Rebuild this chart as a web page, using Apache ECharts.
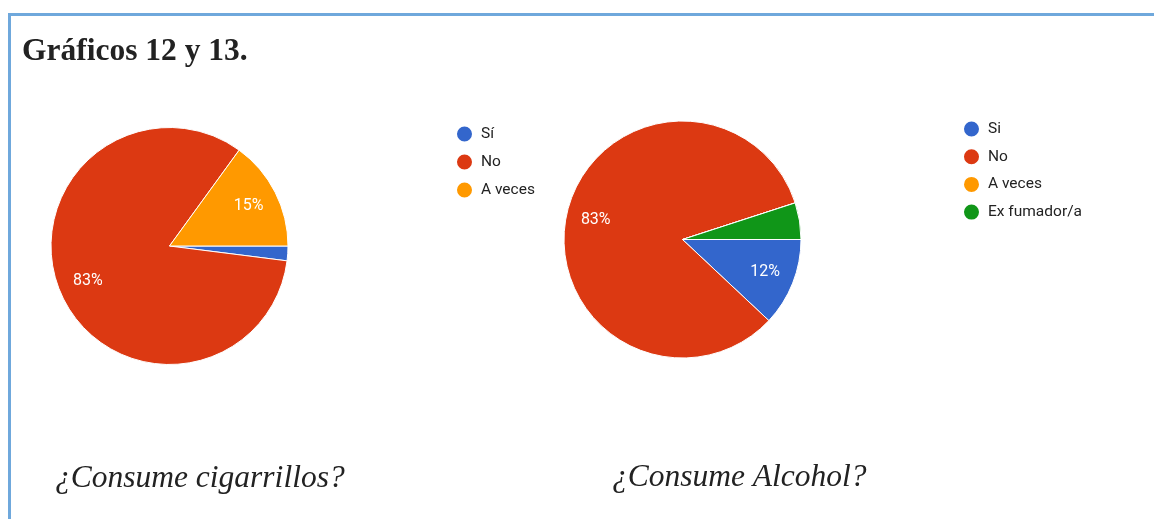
<!DOCTYPE html>
<html>
<head>
<meta charset="utf-8">
<title>Gráficos 12 y 13.</title>
<script src="https://cdn.jsdelivr.net/npm/echarts@6/dist/echarts.min.js"></script>
<style>
  html, body { margin: 0; padding: 0; background: #ffffff; }
  #chart { width: 1154px; height: 519px; }
</style>
</head>
<body>
<div id="chart"></div>
<script>
// Gráfico 12: ¿Consume cigarrillos? (porcentaje de respuestas)
const cigCategories = ['Sí', 'No', 'A veces'];
const cigPercent = [2, 83, 15];

// Gráfico 13: ¿Consume Alcohol? (porcentaje de respuestas)
const alcCategories = ['Si', 'No', 'A veces', 'Ex fumador/a'];
const alcPercent = [12, 83, 0, 5];

const headingText = 'Gráficos 12 y 13.';
const cigQuestion = '¿Consume cigarrillos?';
const alcQuestion = '¿Consume Alcohol?';

// Google-style palette, one colour per answer position
const palette = ['#3366cc', '#dc3912', '#ff9900', '#109618'];

const toData = (names, values) => names.map((n, i) => ({
  name: n,
  value: values[i],
  itemStyle: { color: palette[i] }
}));

const R = 118.5;
const cigCenter = [169.5, 246];
const alcCenter = [682.5, 239.5];

const pieBase = (center, names, values) => ({
  type: 'pie',
  center: center,
  radius: R,
  startAngle: 0,
  clockwise: true,
  avoidLabelOverlap: false,
  label: { show: false },
  labelLine: { show: false },
  itemStyle: { borderColor: '#ffffff', borderWidth: 1 },
  emphasis: { scale: false },
  data: toData(names, values)
});

// Transparent ring that carries the percentage labels at ~0.73 of the radius
const labelRing = (center, names, values) => ({
  type: 'pie',
  center: center,
  radius: [R * 0.45, R],
  startAngle: 0,
  clockwise: true,
  silent: true,
  avoidLabelOverlap: false,
  itemStyle: { color: 'rgba(0,0,0,0)', borderWidth: 0 },
  emphasis: { disabled: true },
  labelLine: { show: false },
  label: {
    show: true,
    position: 'inside',
    color: '#ffffff',
    fontFamily: 'Roboto, Arial, sans-serif',
    fontSize: 16,
    formatter: p => (p.percent >= 6 ? Math.round(p.percent) + '%' : '')
  },
  data: names.map((n, i) => ({ name: n, value: values[i] }))
});

const dot = 'path://M50,0A50,50,0,1,1,50,100A50,50,0,1,1,50,0Z';
const legendBase = {
  orient: 'vertical',
  icon: dot,
  itemWidth: 21,
  itemHeight: 17,
  itemGap: 9,
  padding: 0,
  selectedMode: false,
  textStyle: {
    color: '#222222',
    fontFamily: 'Roboto, Arial, sans-serif',
    fontSize: 15.5,
    lineHeight: 16,
    padding: [0, 0, 0, 1]
  }
};

const serifTitle = (text, left, top, bold) => ({
  text: text,
  left: left,
  top: top,
  padding: 0,
  textStyle: {
    fontFamily: '"Liberation Serif", "Times New Roman", serif',
    fontSize: 31.5,
    fontWeight: bold ? 'bold' : 'normal',
    fontStyle: bold ? 'normal' : 'italic',
    color: '#222222'
  }
});

const chart = echarts.init(document.getElementById('chart'), null, { renderer: 'canvas' });
chart.setOption({
  backgroundColor: '#ffffff',
  animation: false,
  title: [
    serifTitle(headingText, 22, 36, true),
    serifTitle(cigQuestion, 55, 463, false),
    serifTitle(alcQuestion, 612, 462, false)
  ],
  legend: [
    Object.assign({}, legendBase, { left: 455, top: 124.5, data: cigCategories }),
    Object.assign({}, legendBase, { left: 962, top: 119.5, itemGap: 8.7, data: alcCategories })
  ],
  graphic: [
    // frame: top and left rules
    { type: 'rect', silent: true, shape: { x: 8, y: 13, width: 1146, height: 3 }, style: { fill: '#6fa8dc' } },
    { type: 'rect', silent: true, shape: { x: 8, y: 13, width: 3, height: 506 }, style: { fill: '#6fa8dc' } }
  ],
  series: [
    pieBase(cigCenter, cigCategories, cigPercent),
    pieBase(alcCenter, alcCategories, alcPercent),
    labelRing(cigCenter, cigCategories, cigPercent),
    labelRing(alcCenter, alcCategories, alcPercent)
  ]
});
</script>
</body>
</html>
